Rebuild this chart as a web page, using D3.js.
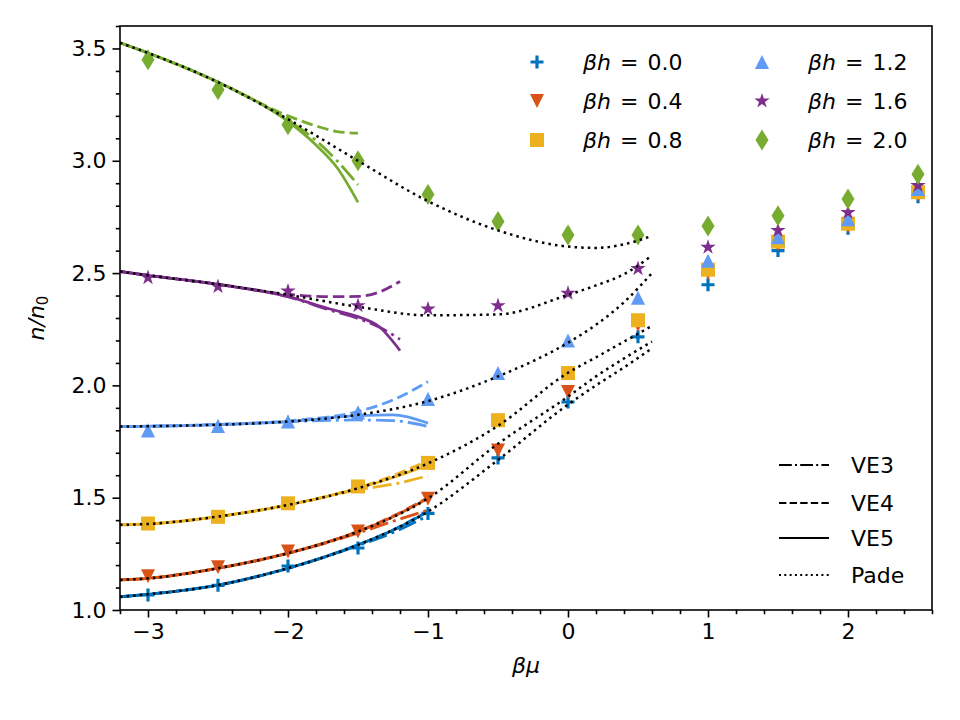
<!DOCTYPE html>
<html>
<head>
<meta charset="utf-8">
<script src="https://cdn.jsdelivr.net/npm/d3@7"></script>
<style>
  body { margin: 0; background: #fff; }
  svg { font-family: "DejaVu Sans", sans-serif; }
</style>
</head>
<body>
<svg id="chart" width="960" height="720"></svg>
<script>
// markers: n/n0 at each beta*mu for every beta*h
const muPoints = [-3, -2.5, -2, -1.5, -1, -0.5, 0, 0.5, 1, 1.5, 2, 2.5];
const bhLabels = ["0.0", "0.4", "0.8", "1.2", "1.6", "2.0"];
const nBh00 = [1.067, 1.11, 1.196, 1.276, 1.43, 1.677, 1.926, 2.216, 2.448, 2.60, 2.70, 2.84];
const nBh04 = [1.15, 1.19, 1.26, 1.35, 1.495, 1.71, 1.97, 2.27, 2.50, 2.63, 2.71, 2.85];
const nBh08 = [1.385, 1.415, 1.475, 1.55, 1.655, 1.845, 2.055, 2.29, 2.515, 2.64, 2.72, 2.86];
const nBh12 = [1.80, 1.82, 1.84, 1.88, 1.94, 2.055, 2.20, 2.39, 2.555, 2.66, 2.74, 2.875];
const nBh16 = [2.48, 2.44, 2.42, 2.355, 2.34, 2.355, 2.41, 2.52, 2.615, 2.69, 2.77, 2.89];
const nBh20 = [3.45, 3.316, 3.16, 3.0, 2.85, 2.73, 2.67, 2.67, 2.71, 2.755, 2.83, 2.94];

// virial expansion curves (VE3 / VE4 / VE5)
const veMuLow = [-3.2, -3, -2.5, -2, -1.5, -1.25, -1];
const veMuPurple = [-3.2, -3, -2.5, -2, -1.7, -1.5, -1.35, -1.2];
const veMuGreen = [-3.2, -3, -2.5, -2, -1.8, -1.65, -1.5];

const ve3Bh00 = [1.059, 1.07, 1.111, 1.185, 1.287, 1.345, 1.42];
const ve4Bh00 = [1.059, 1.07, 1.111, 1.186, 1.29, 1.356, 1.44];
const ve5Bh00 = [1.059, 1.07, 1.111, 1.186, 1.29, 1.355, 1.438];

const ve3Bh04 = [1.134, 1.141, 1.186, 1.252, 1.342, 1.395, 1.445];
const ve4Bh04 = [1.134, 1.141, 1.186, 1.253, 1.35, 1.418, 1.50];
const ve5Bh04 = [1.134, 1.141, 1.186, 1.253, 1.349, 1.415, 1.497];

const ve3Bh08 = [1.379, 1.383, 1.416, 1.466, 1.535, 1.56, 1.597];
const ve4Bh08 = [1.379, 1.383, 1.416, 1.468, 1.544, 1.598, 1.665];
const ve5Bh08 = [1.379, 1.383, 1.416, 1.468, 1.542, 1.59, 1.645];

const ve3Bh12 = [1.817, 1.818, 1.825, 1.838, 1.846, 1.843, 1.817];
const ve4Bh12 = [1.817, 1.818, 1.826, 1.842, 1.884, 1.935, 2.017];
const ve5Bh12 = [1.817, 1.818, 1.825, 1.839, 1.865, 1.869, 1.832];

const ve3Bh16 = [2.507, 2.49, 2.45, 2.395, 2.335, 2.298, 2.26, 2.205];
const ve4Bh16 = [2.507, 2.49, 2.45, 2.405, 2.395, 2.396, 2.415, 2.463];
const ve5Bh16 = [2.507, 2.49, 2.45, 2.395, 2.34, 2.306, 2.262, 2.155];

const ve3Bh20 = [3.525, 3.48, 3.35, 3.18, 3.09, 3.0, 2.893];
const ve4Bh20 = [3.525, 3.48, 3.35, 3.2, 3.155, 3.13, 3.123];
const ve5Bh20 = [3.525, 3.48, 3.35, 3.175, 3.07, 2.97, 2.815];

// Pade curves
const padeMu = [-3.2, -3, -2.5, -2, -1.5, -1, -0.5, 0, 0.2, 0.4, 0.6];
const padeBh00 = [1.059, 1.07, 1.111, 1.186, 1.29, 1.438, 1.668, 1.915, 2.0, 2.08, 2.165];
const padeBh04 = [1.134, 1.141, 1.186, 1.253, 1.349, 1.497, 1.74, 1.95, 2.04, 2.12, 2.195];
const padeBh08 = [1.379, 1.383, 1.416, 1.468, 1.542, 1.653, 1.82, 2.056, 2.125, 2.195, 2.265];
const padeBh12 = [1.817, 1.818, 1.825, 1.839, 1.869, 1.93, 2.04, 2.19, 2.27, 2.37, 2.50];
const padeBh16 = [2.507, 2.49, 2.45, 2.403, 2.35, 2.312, 2.316, 2.403, 2.445, 2.495, 2.578];
const padeBh20 = [3.525, 3.48, 3.35, 3.185, 3.0, 2.82, 2.69, 2.618, 2.612, 2.628, 2.666];

const xTicks = [-3, -2, -1, 0, 1, 2];
const yTicks = [1.0, 1.5, 2.0, 2.5, 3.0, 3.5];
const methodLabels = ["VE3", "VE4", "VE5", "Pade"];

const colors = ["#0072bd", "#d95319", "#edb120", "#5f9bf5", "#7e2f8e", "#77ac30"];

// custom marker shapes (matplotlib style)
const plusSym = {draw(ctx, size) { const r = Math.sqrt(size) / 2;
    ctx.moveTo(-r, 0); ctx.lineTo(r, 0); ctx.moveTo(0, -r); ctx.lineTo(0, r); }};
const triDownSym = {draw(ctx, size) { const r = Math.sqrt(size) / 2;
    ctx.moveTo(0, r); ctx.lineTo(-r, -r); ctx.lineTo(r, -r); ctx.closePath(); }};
const triUpSym = {draw(ctx, size) { const r = Math.sqrt(size) / 2;
    ctx.moveTo(0, -r); ctx.lineTo(-r, r); ctx.lineTo(r, r); ctx.closePath(); }};
const thinDiamondSym = {draw(ctx, size) { const r = Math.sqrt(size) / 2, w = r * 0.62;
    ctx.moveTo(0, -r); ctx.lineTo(w, 0); ctx.lineTo(0, r); ctx.lineTo(-w, 0); ctx.closePath(); }};

const markerDefs = [
    {type: plusSym, size: 169, stroke: true},
    {type: triDownSym, size: 196},
    {type: d3.symbolSquare, size: 196},
    {type: triUpSym, size: 200},
    {type: d3.symbolStar, size: 74},
    {type: thinDiamondSym, size: 441}
];

const seriesData = [
    {n: nBh00, veMu: veMuLow, ve: [ve3Bh00, ve4Bh00, ve5Bh00], pade: padeBh00},
    {n: nBh04, veMu: veMuLow, ve: [ve3Bh04, ve4Bh04, ve5Bh04], pade: padeBh04},
    {n: nBh08, veMu: veMuLow, ve: [ve3Bh08, ve4Bh08, ve5Bh08], pade: padeBh08},
    {n: nBh12, veMu: veMuLow, ve: [ve3Bh12, ve4Bh12, ve5Bh12], pade: padeBh12},
    {n: nBh16, veMu: veMuPurple, ve: [ve3Bh16, ve4Bh16, ve5Bh16], pade: padeBh16},
    {n: nBh20, veMu: veMuGreen, ve: [ve3Bh20, ve4Bh20, ve5Bh20], pade: padeBh20}
];

let dimensions = {
    width: 960, height: 720,
    margin: {top: 26, bottom: 110, right: 28, left: 120}
};
const plotLeft = dimensions.margin.left, plotRight = dimensions.width - dimensions.margin.right;
const plotTop = dimensions.margin.top, plotBottom = dimensions.height - dimensions.margin.bottom;

const svg = d3.select("#chart");

var x = d3.scaleLinear().domain([-3.2, 2.6]).range([plotLeft, plotRight]);
var y = d3.scaleLinear().domain([1.0, 3.6]).range([plotBottom, plotTop]);

svg.append("defs").append("clipPath").attr("id", "plotclip")
    .append("rect").attr("x", plotLeft).attr("y", plotTop)
    .attr("width", plotRight - plotLeft).attr("height", plotBottom - plotTop);

// dash patterns for the methods
const plotDash = ["19,5,3,5", "11.5,5", null, "2.5,4.1"];
const legendDash = ["12.8,3.2,2,3.2", "7.4,3.2", null, "2,3.3"];

const plot = svg.append("g").attr("clip-path", "url(#plotclip)");

// markers
seriesData.forEach((s, i) => {
    const m = markerDefs[i];
    const sym = d3.symbol().type(m.type).size(m.size);
    plot.append("g").selectAll("path")
        .data(muPoints.map((mu, k) => [mu, s.n[k]]))
        .join("path")
        .attr("transform", d => `translate(${x(d[0])},${y(d[1])})`)
        .attr("d", sym)
        .attr("fill", m.stroke ? "none" : colors[i])
        .attr("stroke", m.stroke ? colors[i] : "none")
        .attr("stroke-width", m.stroke ? 3.2 : 0);
});

const line = d3.line()
    .x(d => x(d[0]))
    .y(d => y(d[1]))
    .curve(d3.curveMonotoneX);

// VE lines
seriesData.forEach((s, i) => {
    s.ve.forEach((vals, j) => {
        plot.append("path")
            .datum(s.veMu.map((mu, k) => [mu, vals[k]]))
            .attr("fill", "none")
            .attr("stroke", colors[i])
            .attr("stroke-width", 2.8)
            .attr("stroke-dasharray", plotDash[j])
            .attr("d", line);
    });
});

// Pade lines
seriesData.forEach(s => {
    plot.append("path")
        .datum(padeMu.map((mu, k) => [mu, s.pade[k]]))
        .attr("fill", "none")
        .attr("stroke", "#000")
        .attr("stroke-width", 2.5)
        .attr("stroke-dasharray", plotDash[3])
        .attr("d", line);
});

// Axes
const xMinor = d3.range(-3.2, 2.61, 0.2).filter(v => Math.abs(v - Math.round(v)) > 1e-6);
const yMinor = d3.range(1.0, 3.61, 0.1).filter(v => Math.abs(v * 2 - Math.round(v * 2)) > 1e-6);

svg.append("g")
    .attr("transform", `translate(0,${plotBottom})`)
    .call(d3.axisBottom(x).tickValues(xMinor).tickSize(4.2).tickFormat(""))
    .call(g => g.select(".domain").remove());
svg.append("g")
    .attr("transform", `translate(${plotLeft},0)`)
    .call(d3.axisLeft(y).tickValues(yMinor).tickSize(4.2).tickFormat(""))
    .call(g => g.select(".domain").remove());

svg.append("g")
    .attr("class", "x-axis")
    .attr("transform", `translate(0,${plotBottom})`)
    .call(d3.axisBottom(x).tickValues(xTicks).tickSize(7.5).tickPadding(6).tickFormat(d3.format("d")))
    .call(g => g.select(".domain").remove());
svg.append("g")
    .attr("class", "y-axis")
    .attr("transform", `translate(${plotLeft},0)`)
    .call(d3.axisLeft(y).tickValues(yTicks).tickSize(7.5).tickPadding(6).tickFormat(d3.format(".1f")))
    .call(g => g.select(".domain").remove());

svg.selectAll(".tick line").attr("stroke", "#000").attr("stroke-width", 1.6);
svg.selectAll(".tick text")
    .attr("font-family", "DejaVu Sans")
    .attr("font-size", 22)
    .attr("fill", "#000");

// frame
svg.append("rect")
    .attr("x", plotLeft).attr("y", plotTop)
    .attr("width", plotRight - plotLeft).attr("height", plotBottom - plotTop)
    .attr("fill", "none").attr("stroke", "#000").attr("stroke-width", 1.6);

// axis labels
svg.append("text")
    .attr("x", (plotLeft + plotRight) / 2)
    .attr("y", 673)
    .attr("text-anchor", "middle")
    .attr("font-size", 22)
    .attr("font-style", "italic")
    .text("βμ");

const yLab = svg.append("text")
    .attr("transform", `translate(44,${(plotTop + plotBottom) / 2}) rotate(-90)`)
    .attr("text-anchor", "middle")
    .attr("font-size", 22);
yLab.append("tspan").attr("font-style", "italic").text("n/n");
yLab.append("tspan").attr("font-size", 15).attr("dy", 4).text("0");

// marker legend
const legend1 = svg.append("g");
seriesData.forEach((s, i) => {
    const col = Math.floor(i / 3), row = i % 3;
    const mx = 537 + col * 225, my = 62 + row * 39;
    const m = markerDefs[i];
    legend1.append("path")
        .attr("transform", `translate(${mx},${my})`)
        .attr("d", d3.symbol().type(m.type).size(m.size)())
        .attr("fill", m.stroke ? "none" : colors[i])
        .attr("stroke", m.stroke ? colors[i] : "none")
        .attr("stroke-width", m.stroke ? 3.2 : 0);
    const t = legend1.append("text")
        .attr("x", mx + 46).attr("y", my + 8)
        .attr("font-size", 22);
    t.append("tspan").attr("font-style", "italic").text("βh");
    t.append("tspan").attr("dx", 9).text("=");
    t.append("tspan").attr("dx", 9).text(bhLabels[i]);
});

// line style legend
const legend2 = svg.append("g");
methodLabels.forEach((lab, j) => {
    const ly = [465, 503, 538, 575][j];
    legend2.append("line")
        .attr("x1", 779).attr("x2", 829)
        .attr("y1", ly).attr("y2", ly)
        .attr("stroke", "#000")
        .attr("stroke-width", 2)
        .attr("stroke-dasharray", legendDash[j]);
    legend2.append("text")
        .attr("x", 851).attr("y", ly + 8)
        .attr("font-size", 22)
        .text(lab);
});
</script>
</body>
</html>
